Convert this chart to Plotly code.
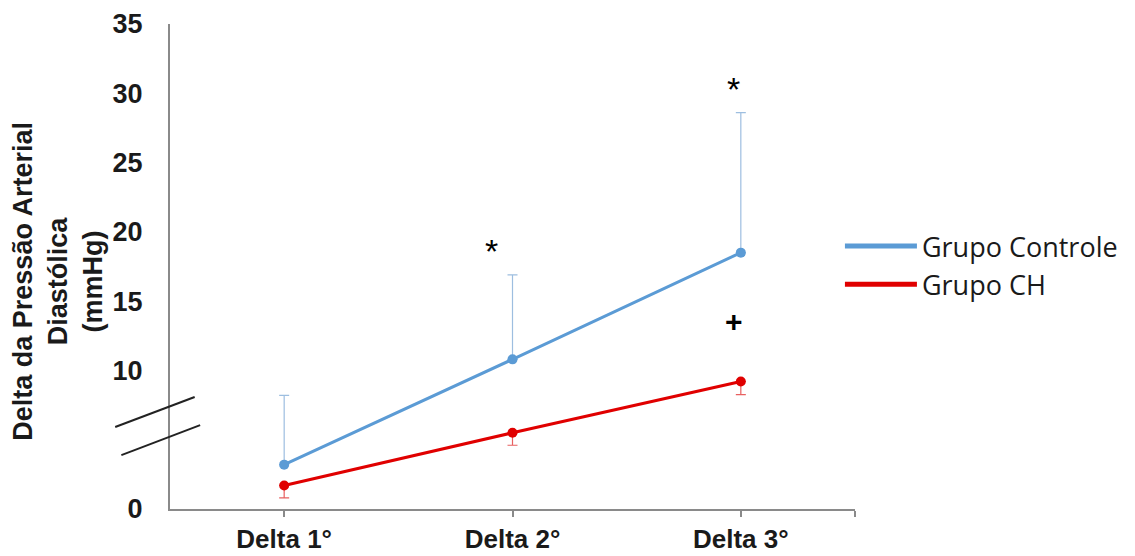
import plotly.graph_objects as go

categories = ["Delta 1°", "Delta 2°", "Delta 3°"]
cat_pos = [0, 1, 2]
controle_mean = [3.2, 10.8, 18.5]
controle_err_up = [5.0, 6.1, 10.1]
ch_mean = [1.7, 5.5, 9.2]
ch_err_down = [0.9, 0.9, 0.95]
zeros = [0, 0, 0]
y_tickvals = [0, 10, 15, 20, 25, 30, 35]
y_title = "Delta da Pressão Arterial<br>Diastólica<br>(mmHg)"

# significance markers: (x position, y value, symbol)
sig_x = [0.91, 1.97, 1.97]
sig_y = [19.1, 30.8, 13.5]
sig_txt = ["*", "*", "<b>+</b>"]

BLUE = "#5B9BD5"
RED = "#E00000"

fig = go.Figure()
fig.add_trace(go.Scatter(
    x=cat_pos, y=controle_mean, name="Grupo Controle", mode="lines+markers",
    line=dict(color=BLUE, width=3), marker=dict(color=BLUE, size=10),
    error_y=dict(type="data", symmetric=False, array=controle_err_up, arrayminus=zeros,
                 color="#9DBEE0", thickness=1.2, width=5),
    showlegend=False, legendgroup="c",
))
fig.add_trace(go.Scatter(
    x=cat_pos, y=ch_mean, name="Grupo CH", mode="lines+markers",
    line=dict(color=RED, width=3), marker=dict(color=RED, size=10),
    error_y=dict(type="data", symmetric=False, array=zeros, arrayminus=ch_err_down,
                 color="#E86060", thickness=1.2, width=5),
    showlegend=False, legendgroup="h",
))
# legend entries (line only, as in the reference)
fig.add_trace(go.Scatter(x=[None], y=[None], name="Grupo Controle", mode="lines",
                         line=dict(color=BLUE, width=5), legendgroup="c"))
fig.add_trace(go.Scatter(x=[None], y=[None], name="Grupo CH", mode="lines",
                         line=dict(color=RED, width=5), legendgroup="h"))

for sx, sy, st in zip(sig_x, sig_y, sig_txt):
    fig.add_annotation(x=sx, y=sy, xref="x", yref="y", text=st, showarrow=False,
                       font=dict(family="Liberation Sans", size=34 if st == "*" else 30,
                                 color="black"),
                       yshift=-7 if st == "*" else 0)

# y-axis title
fig.add_annotation(x=-0.1640, y=0.470, xref="paper", yref="paper", text=y_title,
                   textangle=-90, showarrow=False, xanchor="center", yanchor="middle",
                   font=dict(family="Liberation Sans", size=27, color="#1a1a1a", weight="bold"))

# axis break marks
for (x0, y0, x1, y1) in [(-0.080, 0.169, 0.036, 0.231), (-0.071, 0.111, 0.044, 0.173)]:
    fig.add_shape(type="line", xref="paper", yref="paper", x0=x0, y0=y0, x1=x1, y1=y1,
                  line=dict(color="#222222", width=2))

fig.update_layout(
    width=1127, height=548,
    margin=dict(l=162, r=277, t=16, b=47),
    plot_bgcolor="white", paper_bgcolor="white",
    font=dict(family="Liberation Sans", color="#1a1a1a"),
    legend=dict(x=0.978, y=0.502, xanchor="left", yanchor="middle",
                font=dict(family="Open Sans", size=27, color="#1a1a1a"),
                tracegroupgap=0, itemwidth=72),
    showlegend=True,
)
fig.update_xaxes(
    range=[-0.5, 2.5], tickvals=[0, 1, 2, 2.5], ticktext=categories + [""],
    showline=True, linecolor="#8a8a8a", linewidth=2,
    ticks="outside", ticklen=6, tickcolor="#8a8a8a", tickwidth=1.5, ticklabelstandoff=0,
    tickfont=dict(family="Liberation Sans", size=26, color="#1a1a1a", weight="bold"),
    showgrid=False, zeroline=False, automargin=False,
)
fig.update_yaxes(
    range=[0, 35], tickvals=y_tickvals,
    showline=True, linecolor="#8a8a8a", linewidth=2,
    ticks="", ticklabelstandoff=20,
    tickfont=dict(family="Liberation Sans", size=27, color="#1a1a1a", weight="bold"),
    showgrid=False, zeroline=False, automargin=False,
)

fig.write_html("out.html")
